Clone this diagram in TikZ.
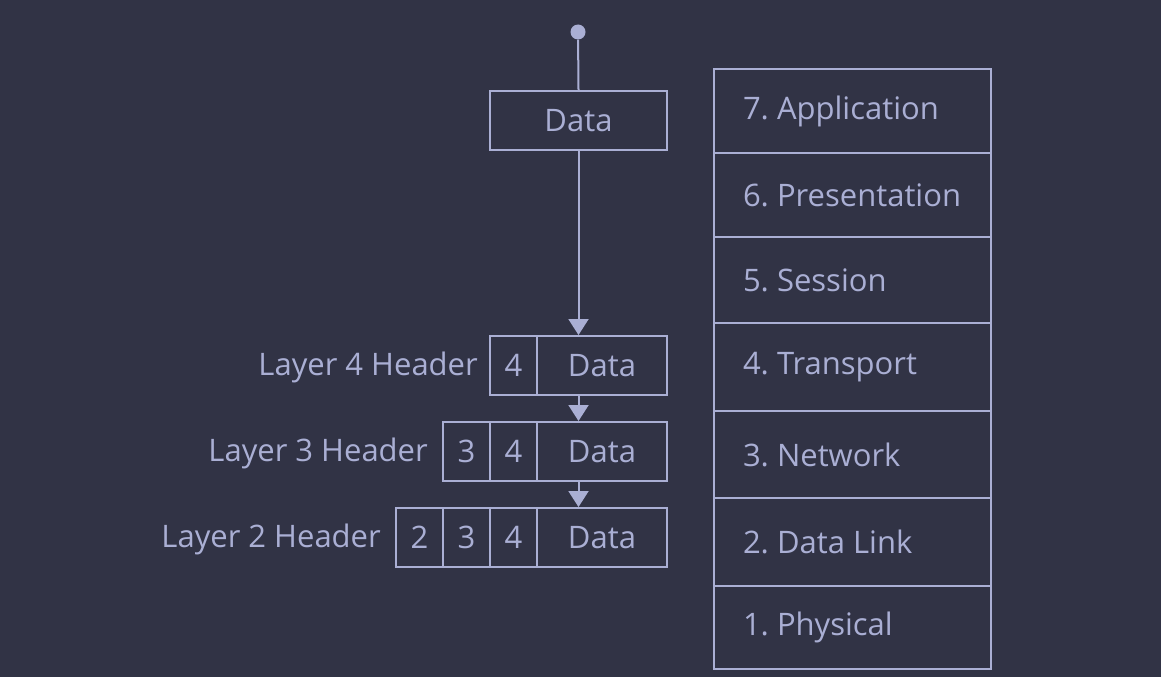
\documentclass[tikz,border=0pt]{standalone}
\usepackage{fontspec}
\setmainfont{Open Sans}
\usetikzlibrary{arrows.meta}
\definecolor{bgc}{RGB}{49,51,69}
\definecolor{fgc}{RGB}{170,175,212}
\begin{document}
\frenchspacing
\begin{tikzpicture}[x=1pt,y=-1pt,
  every node/.style={text=fgc,font=\fontsize{31}{34}\selectfont},
  box/.style={draw=fgc,line width=2pt,minimum height=59pt,inner sep=0pt,anchor=north west},
  cell/.style={draw=fgc,line width=2pt,minimum height=59pt,inner sep=0pt,anchor=north west},
  layer/.style={draw=fgc,line width=2pt,minimum width=277pt,inner ysep=0pt,inner xsep=29pt,anchor=north west,text width=219pt,align=flush left,execute at begin node={\hyphenpenalty=10000\relax}},
  lbl/.style={anchor=east,inner sep=0pt},
  conn/.style={draw=fgc,line width=2pt},
  arr/.style={conn,-{Triangle[width=20pt,length=16pt]}}]
\fill[bgc] (0,0) rectangle (1161,677);
\useasboundingbox (0,0) rectangle (1161,677);
% top
\node[circle,fill=fgc,minimum size=15pt,inner sep=0pt] (dot) at (578,32) {};
\node[box,minimum width=177pt] (data) at (489,90) {Data};
\draw[conn] (dot) -- (data.north);
% layer 4
\node[box,minimum width=177pt] (p4) at (489,335) {};
\node[cell,minimum width=47pt] (p4a) at (489,335) {4};
\node[cell,minimum width=130pt] (p4d) at (536,335) {Data};
\node[lbl] (l4) at (478,367) {Layer 4 Header};
% layer 3
\node[box,minimum width=224pt] (p3) at (442,421) {};
\node[cell,minimum width=47pt] (p3a) at (442,421) {3};
\node[cell,minimum width=47pt] (p3b) at (489,421) {4};
\node[cell,minimum width=130pt] (p3d) at (536,421) {Data};
\node[lbl] (l3) at (428,453) {Layer 3 Header};
% layer 2
\node[box,minimum width=271pt] (p2) at (395,507) {};
\node[cell,minimum width=47pt] (p2a) at (395,507) {2};
\node[cell,minimum width=47pt] (p2b) at (442,507) {3};
\node[cell,minimum width=47pt] (p2c) at (489,507) {4};
\node[cell,minimum width=130pt] (p2d) at (536,507) {Data};
\node[lbl] (l2) at (381,539) {Layer 2 Header};
% arrows
\draw[arr] (data.south) -- (p4.north);
\draw[arr] (p4.south) -- (p4.south |- p3.north);
\draw[arr] (p4.south |- p3.south) -- (p4.south |- p2.north);
% OSI stack
\node[layer,minimum height=84pt] (s7) at (713,68) {7. Application};
\node[layer,minimum height=84pt] (s6) at (713,152) {6. Presentation};
\node[layer,minimum height=86pt] (s5) at (713,236) {5. Session};
\node[layer,minimum height=88pt] (s4) at (713,322) {4. Transport};
\node[layer,minimum height=87pt] (s3) at (713,410) {3. Network};
\node[layer,minimum height=88pt] (s2) at (713,497) {2. Data Link};
\node[layer,minimum height=83pt] (s1) at (713,585) {1. Physical};
\end{tikzpicture}
\end{document}
